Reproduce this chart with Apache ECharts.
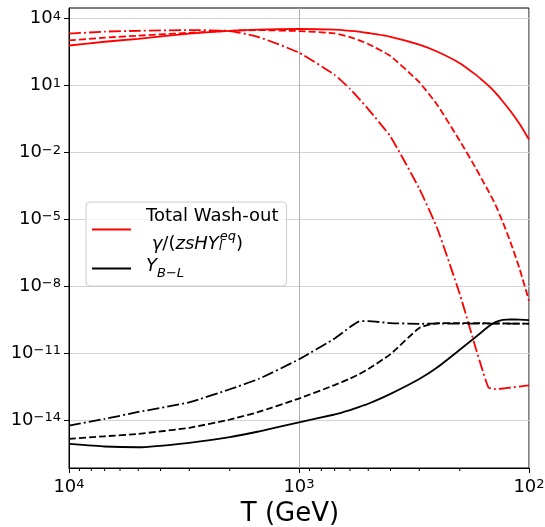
<!DOCTYPE html>
<html>
<head>
<meta charset="utf-8">
<script src="https://cdn.jsdelivr.net/npm/echarts@6/dist/echarts.min.js"></script>
<style>html,body{margin:0;padding:0;background:#fff}#main{width:545px;height:527px}</style>
</head>
<body>
<div id="main"></div>
<script>
// temperatures (GeV)
var T = [10000, 7000, 5000, 3000, 2000, 1500, 1000, 700, 600, 550, 500, 400, 300, 250, 200, 170, 160, 150, 140, 130, 120, 110, 100];

// total wash-out rate gamma/(z s H Y_l^eq), three benchmark cases
var washSolid = [6.3e2, 9.3e2, 1.26e3, 2.14e3, 2.88e3, 3.24e3, 3.47e3, 3.24e3, 2.88e3, 2.63e3, 2.29e3, 1.55e3, 6.9e2, 3.3e2, 1.02e2, 3.04e1, 1.78e1, 1.0e1, 4.85, 1.96, 7.0e-1, 1.96e-1, 3.9e-2];
var washDash = [1.07e3, 1.41e3, 1.74e3, 2.34e3, 2.88e3, 3.09e3, 2.79e3, 2.22e3, 1.50e3, 1.10e3, 7.4e2, 2.11e2, 1.43e1, 1.34, 3.4e-2, 1.96e-3, 6.2e-4, 1.86e-4, 4.7e-5, 7.7e-6, 9.0e-7, 6.5e-8, 2.3e-9];
var washDashDot = [2.14e3, 2.63e3, 2.88e3, 3.09e3, 2.82e3, 1.51e3, 3.03e2, 3.04e1, 7.2, 2.72, 8.9e-1, 5.2e-2, 2.44e-4, 3.8e-6, 4.6e-9, 1.6e-11, 2.1e-12, 3.0e-13, 2.56e-13, 2.7e-13, 3.0e-13, 3.3e-13, 3.75e-13];

// Y_{B-L}
var yblSolid = [8.9e-16, 6.8e-16, 6.3e-16, 1.0e-15, 1.8e-15, 3.2e-15, 8.3e-15, 1.85e-14, 2.93e-14, 3.95e-14, 5.6e-14, 1.56e-13, 7.2e-13, 2.42e-12, 1.47e-11, 5.6e-11, 9.4e-11, 1.61e-10, 2.53e-10, 3.21e-10, 3.35e-10, 3.31e-10, 3.16e-10];
var yblDash = [1.5e-15, 1.95e-15, 2.5e-15, 4.7e-15, 1.1e-14, 2.4e-14, 9.6e-14, 3.86e-13, 7.55e-13, 1.16e-12, 2.0e-12, 9.4e-12, 1.38e-10, 2.31e-10, 2.32e-10, 2.3e-10, 2.28e-10, 2.26e-10, 2.25e-10, 2.23e-10, 2.2e-10, 2.2e-10, 2.15e-10];
var yblDashDot = [5.9e-15, 1.17e-14, 2.4e-14, 6.5e-14, 2.5e-13, 7.2e-13, 5.5e-12, 4.7e-11, 1.53e-10, 2.69e-10, 2.84e-10, 2.31e-10, 2.14e-10, 2.2e-10, 2.2e-10, 2.2e-10, 2.2e-10, 2.2e-10, 2.2e-10, 2.2e-10, 2.2e-10, 2.2e-10, 2.2e-10];

var yTicks = [1e-14, 1e-11, 1e-8, 1e-5, 1e-2, 1e1, 1e4];
var xMinorTicks = [200, 300, 400, 500, 600, 700, 800, 900, 2000, 3000, 4000, 5000, 6000, 7000, 8000, 9000];

var FONT = 'DejaVu Sans';

function pairs(vals) {
    return T.map(function (t, i) { return [t, vals[i]]; });
}

// 10^n labels with a raised exponent
function expLabel(v) {
    var e = Math.round(Math.log(v) / Math.LN10);
    return '{b|10}{s|' + (e < 0 ? '\u2212' + (-e) : e) + '}';
}
var expRich = {
    b: { fontFamily: FONT, fontSize: 18, lineHeight: 18, color: '#000' },
    s: { fontFamily: FONT, fontSize: 13, lineHeight: 13, verticalAlign: 'top', color: '#000' }
};

function curve(name, vals, color, dash) {
    return {
        name: name,
        type: 'line',
        data: pairs(vals),
        symbol: 'none',
        smooth: 0.15,
        silent: true,
        lineStyle: { color: color, width: 1.8, type: dash, cap: 'butt' },
        itemStyle: { color: color }
    };
}

// short minor ticks under the x axis, placed through the axis scale
var minorTickSeries = {
    type: 'custom',
    silent: true,
    clip: false,
    data: xMinorTicks.map(function (t) { return [t, 1]; }),
    renderItem: function (params, api) {
        var x = api.coord([api.value(0), 1])[0];
        var y0 = params.coordSys.y + params.coordSys.height;
        return {
            type: 'line',
            shape: { x1: x, y1: y0, x2: x, y2: y0 + 3 },
            style: { stroke: '#000', lineWidth: 1 }
        };
    }
};

var myChart = echarts.init(document.getElementById('main'), null, { renderer: 'canvas' });
myChart.setOption({
    animation: false,
    backgroundColor: '#fff',
    grid: {
        left: 69, right: 16, top: 8, bottom: 59,
        containLabel: false,
        outerBoundsMode: 'none',
        show: true, borderColor: '#000', borderWidth: 1
    },
    xAxis: {
        type: 'log',
        logBase: 10,
        inverse: true,
        min: 100,
        max: 10000,
        axisLine: { show: true, onZero: false, lineStyle: { color: '#000', width: 1 } },
        axisTick: { show: true, length: 5, lineStyle: { color: '#000' } },
        splitLine: { show: true, lineStyle: { color: '#b0b0b0', width: 1 } },
        axisLabel: { formatter: expLabel, margin: 10, rich: expRich },
        name: 'T (GeV)',
        nameLocation: 'middle',
        nameGap: 30,
        nameTextStyle: { fontFamily: FONT, fontSize: 26, color: '#000', padding: [0, 18, 0, 0] }
    },
    yAxis: {
        type: 'log',
        logBase: 10,
        min: Math.pow(10, -16.13),
        max: Math.pow(10, 4.48),
        axisLine: { show: true, lineStyle: { color: '#000', width: 1 } },
        axisTick: { show: true, length: 5, customValues: yTicks, lineStyle: { color: '#000' } },
        axisLabel: { customValues: yTicks, formatter: expLabel, margin: 8, rich: expRich },
        splitLine: { show: true, lineStyle: { color: '#d3d3d3', width: 1 } }
    },
    legend: {
        data: [{ name: 'wash', icon: 'rect' }, { name: 'ybl', icon: 'rect' }],
        orient: 'vertical',
        left: 86,
        top: 202,
        itemWidth: 39,
        itemHeight: 2,
        itemGap: 4,
        padding: [5, 8, 6, 6],
        backgroundColor: 'rgba(255,255,255,0.8)',
        borderColor: '#cccccc',
        borderWidth: 1,
        borderRadius: 4,
        formatter: function (name) {
            if (name === 'wash') {
                return '{t1|Total Wash-out}\n{t2| }{i2|\u03b3}{t2|/(}{i2|zsHY}{sub|l}{sup|eq}{t2|)}';
            }
            return '{iy|Y}{suby|B\u2212L}';
        },
        textStyle: {
            fontFamily: FONT, fontSize: 18, color: '#000', padding: [0, 0, 0, 10],
            rich: {
                t1: { fontFamily: FONT, fontSize: 18, lineHeight: 20 },
                t2: { fontFamily: FONT, fontSize: 18, lineHeight: 27, verticalAlign: 'bottom' },
                i2: { fontFamily: FONT, fontSize: 18, fontStyle: 'italic', lineHeight: 27, verticalAlign: 'bottom' },
                sup: { fontFamily: FONT, fontSize: 13, fontStyle: 'italic', verticalAlign: 'top', padding: [4, 0, 0, 0] },
                sub: { fontFamily: FONT, fontSize: 13, fontStyle: 'italic', verticalAlign: 'bottom', width: 1 },
                iy: { fontFamily: FONT, fontSize: 18, fontStyle: 'italic', lineHeight: 23, verticalAlign: 'top' },
                suby: { fontFamily: FONT, fontSize: 13, fontStyle: 'italic', verticalAlign: 'bottom' }
            }
        }
    },
    series: [
        curve('wash', washSolid, '#ff0000', 'solid'),
        curve('wash-b', washDash, '#ff0000', [7, 3]),
        curve('wash-c', washDashDot, '#ff0000', [12, 3, 2, 3]),
        curve('ybl', yblSolid, '#000000', 'solid'),
        curve('ybl-b', yblDash, '#000000', [7, 3]),
        curve('ybl-c', yblDashDot, '#000000', [12, 3, 2, 3]),
        minorTickSeries
    ]
});
</script>
</body>
</html>
